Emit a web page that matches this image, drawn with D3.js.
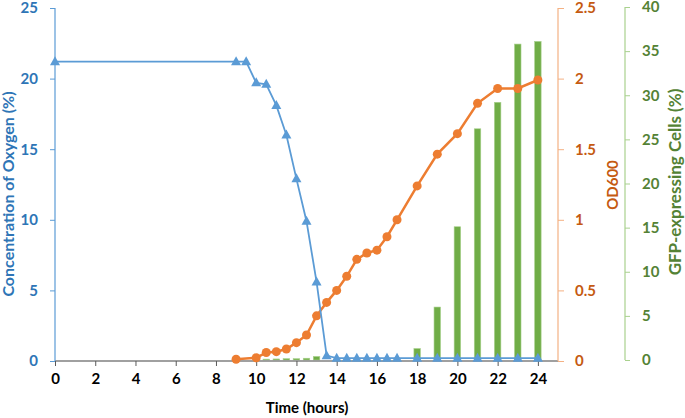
<!DOCTYPE html>
<html>
<head>
<meta charset="utf-8">
<script src="https://cdn.jsdelivr.net/npm/d3@7"></script>
<style>
  body { margin: 0; background: #fff; }
  text { font-family: Lato, "Open Sans", sans-serif; font-weight: bold; }
</style>
</head>
<body>
<svg id="chart" width="685" height="418"></svg>
<script>
// Oxygen concentration (%) over time (hours)
const oxyTime = [0, 9, 9.5, 10, 10.5, 11, 11.5, 12, 12.5, 13, 13.5, 14, 14.5, 15, 15.5, 16, 16.5, 17, 18, 19, 20, 21, 22, 23, 24];
const oxyValue = [21.2, 21.2, 21.2, 19.7, 19.6, 18.1, 16.0, 12.9, 9.9, 5.6, 0.38, 0.2, 0.2, 0.2, 0.2, 0.2, 0.2, 0.2, 0.2, 0.2, 0.2, 0.2, 0.2, 0.2, 0.2];

// OD600
const odTime = [9, 10, 10.5, 11, 11.5, 12, 12.5, 13, 13.5, 14, 14.5, 15, 15.5, 16, 16.5, 17, 18, 19, 20, 21, 22, 23, 24];
const odValue = [0.012, 0.023, 0.06, 0.066, 0.085, 0.13, 0.184, 0.32, 0.415, 0.5, 0.6, 0.72, 0.765, 0.785, 0.88, 1.0, 1.24, 1.465, 1.61, 1.825, 1.93, 1.93, 1.99];

// GFP-expressing cells (%)
const gfpTime = [10.5, 11, 11.5, 12, 12.5, 13, 18, 19, 20, 21, 22, 23, 24];
const gfpValue = [0.1, 0.12, 0.15, 0.15, 0.2, 0.4, 1.3, 6.0, 15.1, 26.2, 29.2, 35.8, 36.1];

const xTicks = d3.range(0, 25, 2);
const oxyTicks = [0, 5, 10, 15, 20, 25];
const odTicks = [0, 0.5, 1, 1.5, 2, 2.5];
const gfpTicks = [0, 5, 10, 15, 20, 25, 30, 35, 40];

const blue = '#5b9bd5', blueText = '#2e75b6';
const orange = '#ed7d31', orangeText = '#c55a11';
const green = '#70ad47', greenText = '#548235';

const svg = d3.select('#chart');

const x = d3.scaleLinear().domain([0, 25]).range([55, 558]);
const yOxy = d3.scaleLinear().domain([0, 25]).range([361, 8]);
const yOd = d3.scaleLinear().domain([0, 2.5]).range([361, 8]);
const yGfp = d3.scaleLinear().domain([0, 40]).range([360, 7]);

// bars
const barW = 6.5;
svg.append('g').selectAll('rect')
  .data(gfpTime.map((t, i) => ({ t, v: gfpValue[i] })))
  .enter().append('rect')
  .attr('x', d => x(d.t) - barW / 2)
  .attr('y', d => yGfp(d.v))
  .attr('width', barW)
  .attr('height', d => yGfp(0) - yGfp(d.v))
  .attr('fill', green)
  .attr('stroke', '#a9d18e')
  .attr('stroke-width', 0.6);

// x axis
const gx = svg.append('g').attr('transform', 'translate(0,361)');
gx.call(d3.axisBottom(x).tickValues(xTicks).tickSize(5).tickPadding(7).tickFormat(d3.format('d')));
gx.select('.domain').attr('stroke', '#808080').attr('stroke-width', 1.5).attr('d', 'M55,0H558');
gx.selectAll('.tick line').attr('stroke', '#595959');
gx.selectAll('.tick text').attr('fill', '#000').style('font-size', '15px');

// left axis
const gl = svg.append('g').attr('transform', 'translate(55,0)');
gl.call(d3.axisLeft(yOxy).tickValues(oxyTicks).tickSize(5).tickPadding(12));
gl.select('.domain').attr('stroke', blue).attr('stroke-width', 1.2).attr('d', 'M0,8V361');
gl.selectAll('.tick line').attr('stroke', blue);
gl.selectAll('.tick text').attr('fill', blueText).style('font-size', '15px');

// OD600 axis
const go = svg.append('g').attr('transform', 'translate(558,0)');
go.call(d3.axisRight(yOd).tickValues(odTicks).tickSize(6).tickPadding(11).tickFormat(d => d));
go.select('.domain').attr('stroke', '#f4b183').attr('stroke-width', 1.2).attr('d', 'M0,8V361');
go.selectAll('.tick line').attr('stroke', '#f4b183');
go.selectAll('.tick text').attr('fill', orangeText).style('font-size', '15px');

// GFP axis
const gg = svg.append('g').attr('transform', 'translate(625,0)');
gg.call(d3.axisRight(yGfp).tickValues(gfpTicks).tickSize(5).tickPadding(12));
gg.select('.domain').attr('stroke', '#a9d18e').attr('stroke-width', 1.2).attr('d', 'M0,7V360');
gg.selectAll('.tick line').attr('stroke', '#a9d18e');
gg.selectAll('.tick text').attr('fill', greenText).style('font-size', '15px');

// OD600 line
const odData = odTime.map((t, i) => ({ t, v: odValue[i] }));
svg.append('path')
  .datum(odData)
  .attr('fill', 'none')
  .attr('stroke', orange)
  .attr('stroke-width', 2.5)
  .attr('d', d3.line().x(d => x(d.t)).y(d => yOd(d.v)));
svg.append('g').selectAll('circle')
  .data(odData)
  .enter().append('circle')
  .attr('cx', d => x(d.t))
  .attr('cy', d => yOd(d.v))
  .attr('r', 4.5)
  .attr('fill', orange);

// oxygen line
const oxyData = oxyTime.map((t, i) => ({ t, v: oxyValue[i] }));
svg.append('path')
  .datum(oxyData)
  .attr('fill', 'none')
  .attr('stroke', blue)
  .attr('stroke-width', 1.8)
  .attr('d', d3.line().x(d => x(d.t)).y(d => yOxy(d.v)));
svg.append('g').selectAll('path')
  .data(oxyData)
  .enter().append('path')
  .attr('transform', d => 'translate(' + x(d.t) + ',' + yOxy(d.v) + ')')
  .attr('d', 'M0,-5.5L5,3.5L-5,3.5Z')
  .attr('fill', blue);

// titles
svg.append('text')
  .attr('transform', 'translate(14,194) rotate(-90)')
  .attr('text-anchor', 'middle')
  .attr('fill', blueText)
  .style('font-size', '16px')
  .text('Concentration of Oxygen (%)');

svg.append('text')
  .attr('transform', 'translate(618,185) rotate(-90)')
  .attr('text-anchor', 'middle')
  .attr('fill', orangeText)
  .style('font-size', '15px')
  .text('OD600');

svg.append('text')
  .attr('transform', 'translate(681,182) rotate(-90)')
  .attr('text-anchor', 'middle')
  .attr('fill', greenText)
  .style('font-size', '17px')
  .text('GFP-expressing Cells (%)');

svg.append('text')
  .attr('x', 307)
  .attr('y', 413)
  .attr('text-anchor', 'middle')
  .attr('fill', '#000')
  .style('font-size', '15px')
  .text('Time (hours)');
</script>
</body>
</html>
